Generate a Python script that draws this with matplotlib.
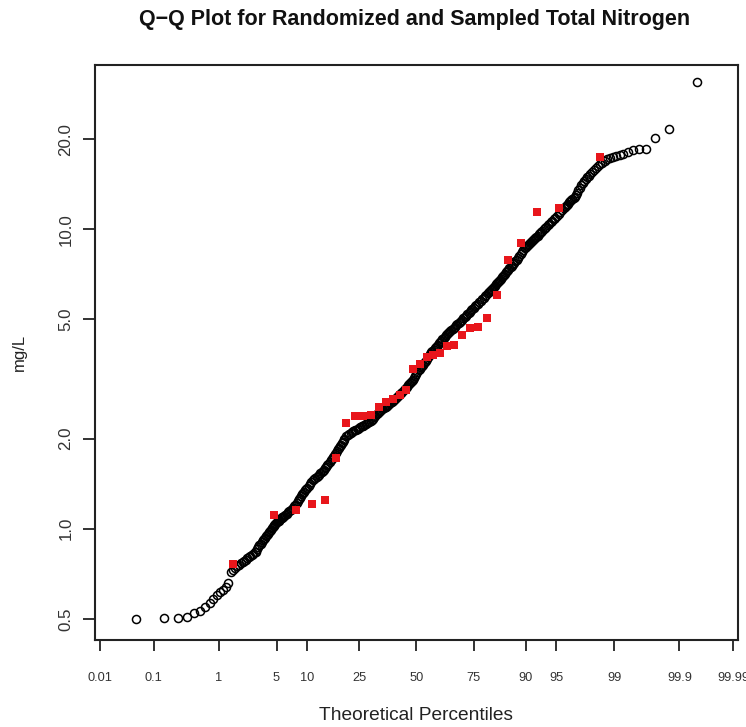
import numpy as np
import matplotlib
matplotlib.use("Agg")
import matplotlib.pyplot as plt
from matplotlib.ticker import FixedLocator, NullLocator, FixedFormatter
from statistics import NormalDist

# ---------------- data ----------------
# Sampled total nitrogen (mg/L), sorted, n = 32 (red squares)
sampled_values = [0.760, 1.109, 1.155, 1.209, 1.247, 1.718, 2.249, 2.379, 2.385, 2.398,
                  2.556, 2.657, 2.706, 2.797, 2.907, 3.407, 3.549, 3.737, 3.804, 3.853,
                  4.075, 4.107, 4.436, 4.692, 4.728, 5.043, 6.034, 7.900, 8.980, 11.40,
                  11.81, 17.48]

# Randomized total nitrogen: n = 1000; order statistics read at these ranks
randomized_n = 1000
randomized_ranks = (list(range(1, 61)) + list(range(62, 101, 2)) + list(range(103, 200, 3))
                    + list(range(205, 801, 5)) + list(range(803, 900, 3))
                    + list(range(901, 960, 2)) + list(range(960, 1001)))
randomized_values = [
    # ranks 1-60
    0.500, 0.502, 0.505, 0.507, 0.522, 0.532, 0.549, 0.563, 0.582, 0.601,
    0.616, 0.624, 0.640, 0.657, 0.717, 0.728, 0.739, 0.748, 0.756, 0.766,
    0.774, 0.780, 0.789, 0.797, 0.804, 0.811, 0.818, 0.825, 0.833, 0.839,
    0.853, 0.867, 0.880, 0.892, 0.903, 0.914, 0.924, 0.934, 0.944, 0.953,
    0.963, 0.973, 0.983, 0.992, 1.002, 1.011, 1.021, 1.030, 1.038, 1.046,
    1.053, 1.059, 1.065, 1.070, 1.076, 1.082, 1.088, 1.093, 1.098, 1.103,
    # ranks 62-100 step 2
    1.114, 1.124, 1.133, 1.144, 1.155, 1.166, 1.177, 1.188, 1.199, 1.216,
    1.233, 1.252, 1.270, 1.286, 1.301, 1.314, 1.329, 1.344, 1.357, 1.370,
    # ranks 103-199 step 3
    1.390, 1.411, 1.433, 1.450, 1.463, 1.476, 1.490, 1.503, 1.516, 1.531,
    1.548, 1.562, 1.576, 1.590, 1.610, 1.630, 1.650, 1.671, 1.692, 1.714,
    1.735, 1.756, 1.776, 1.797, 1.818, 1.840, 1.860, 1.883, 1.907, 1.930,
    1.952, 1.976, 1.998,
    # ranks 205-800 step 5
    2.034, 2.053, 2.072, 2.090, 2.107, 2.119, 2.131, 2.143, 2.154, 2.168,
    2.181, 2.196, 2.211, 2.226, 2.241, 2.254, 2.267, 2.280, 2.293, 2.311,
    2.329, 2.357, 2.385, 2.411, 2.438, 2.459, 2.480, 2.496, 2.511, 2.526,
    2.541, 2.558, 2.575, 2.592, 2.609, 2.628, 2.647, 2.670, 2.693, 2.715,
    2.736, 2.760, 2.783, 2.806, 2.828, 2.850, 2.872, 2.899, 2.926, 2.955,
    2.983, 3.010, 3.038, 3.067, 3.095, 3.123, 3.150, 3.193, 3.236, 3.293,
    3.350, 3.388, 3.425, 3.460, 3.494, 3.533, 3.571, 3.609, 3.646, 3.693,
    3.739, 3.789, 3.838, 3.882, 3.925, 3.963, 4.001, 4.042, 4.082, 4.122,
    4.161, 4.203, 4.245, 4.292, 4.338, 4.382, 4.425, 4.461, 4.497, 4.536,
    4.574, 4.615, 4.655, 4.695, 4.735, 4.777, 4.819, 4.862, 4.905, 4.951,
    4.996, 5.047, 5.097, 5.149, 5.200, 5.253, 5.305, 5.361, 5.417, 5.474,
    5.530, 5.586, 5.642, 5.706, 5.769, 5.835, 5.900, 5.974, 6.047, 6.112,
    # ranks 803-899 step 3
    6.166, 6.219, 6.271, 6.325, 6.381, 6.434, 6.489, 6.546, 6.606, 6.667,
    6.726, 6.786, 6.849, 6.910, 6.971, 7.042, 7.112, 7.182, 7.254, 7.328,
    7.407, 7.487, 7.570, 7.652, 7.734, 7.817, 7.910, 8.029, 8.151, 8.275,
    8.410, 8.533, 8.632,
    # ranks 901-959 step 2
    8.699, 8.766, 8.839, 8.909, 8.978, 9.047, 9.120, 9.195, 9.271, 9.352,
    9.438, 9.521, 9.609, 9.703, 9.804, 9.902, 9.999, 10.10, 10.20, 10.30,
    10.42, 10.54, 10.66, 10.79, 10.93, 11.06, 11.21, 11.40, 11.62, 11.81,
    # ranks 960-1000
    11.91, 12.00, 12.09, 12.18, 12.29, 12.40, 12.51, 12.62, 12.74, 12.85,
    13.02, 13.27, 13.51, 13.71, 14.02, 14.25, 14.50, 14.69, 14.92, 15.10,
    15.30, 15.50, 15.74, 15.98, 16.22, 16.48, 16.70, 16.91, 17.13, 17.33,
    17.45, 17.57, 17.72, 17.89, 18.16, 18.42, 18.54, 18.61, 20.13, 21.57,
    31.11]

x_tick_percentiles = [0.01, 0.1, 1, 5, 10, 25, 50, 75, 90, 95, 99, 99.9, 99.99]
x_tick_labels = ["0.01", "0.1", "1", "5", "10", "25", "50", "75", "90", "95", "99", "99.9", "99.99"]
y_ticks = [0.5, 1.0, 2.0, 5.0, 10.0, 20.0]
y_tick_labels = ["0.5", "1.0", "2.0", "5.0", "10.0", "20.0"]

assert len(randomized_ranks) == len(randomized_values)

# ---------------- plotting positions (Hazen) ----------------
rand_pct = [100.0 * (r - 0.5) / randomized_n for r in randomized_ranks]
n_s = len(sampled_values)
samp_pct = [100.0 * (i - 0.5) / n_s for i in range(1, n_s + 1)]

_nd = NormalDist()


def _fwd_scalar(pc):
    try:
        q = pc / 100.0
        q = min(max(q, 1e-15), 1 - 1e-15)
        return _nd.inv_cdf(q)
    except Exception:
        return np.nan


def _inv_scalar(z):
    try:
        return 100.0 * _nd.cdf(z)
    except Exception:
        return np.nan


fwd = np.vectorize(_fwd_scalar, otypes=[float])
inv = np.vectorize(_inv_scalar, otypes=[float])

plt.rcParams["font.family"] = ["Liberation Sans", "DejaVu Sans"]

W, H = 746, 727
fig = plt.figure(figsize=(W / 100, H / 100), dpi=100)
L, R, T, B = 95, 738, 65, 640
ax = fig.add_axes([L / W, 1 - B / H, (R - L) / W, (B - T) / H])

ax.set_xscale("function", functions=(fwd, inv))
ax.set_yscale("log")

ax.plot(rand_pct, randomized_values, linestyle="none", marker="o", markersize=5.8,
        markerfacecolor="none", markeredgecolor="black", markeredgewidth=1.1, zorder=2)
ax.plot(samp_pct, sampled_values, linestyle="none", marker="s", markersize=5.9,
        markerfacecolor="#e8161b", markeredgewidth=0, zorder=3)

zlim = 3.778
ax.set_xlim(100 * _nd.cdf(-zlim), 100 * _nd.cdf(zlim))
ax.set_ylim(10 ** (-0.3717), 10 ** 1.5488)

ax.xaxis.set_major_locator(FixedLocator(x_tick_percentiles))
ax.xaxis.set_major_formatter(FixedFormatter(x_tick_labels))
ax.xaxis.set_minor_locator(NullLocator())
ax.yaxis.set_major_locator(FixedLocator(y_ticks))
ax.yaxis.set_major_formatter(FixedFormatter(y_tick_labels))
ax.yaxis.set_minor_locator(NullLocator())

for s in ax.spines.values():
    s.set_linewidth(1.5)
    s.set_color("#222222")

ax.tick_params(axis="x", direction="out", length=8, width=1.3, pad=15,
               labelsize=9.2, colors="#222222", labelcolor="#333333")
ax.tick_params(axis="y", direction="out", length=8.5, width=1.3, pad=7,
               labelsize=12.2, colors="#222222", labelcolor="#333333")
for lab in ax.get_yticklabels():
    lab.set_rotation(90)
    lab.set_verticalalignment("center")

fig.text(415 / W, 1 - 20 / H, "Q\u2212Q Plot for Randomized and Sampled Total Nitrogen",
         ha="center", va="center", fontsize=15.5, fontweight="bold", color="#111111")
fig.text(416 / W, 1 - 716 / H, "Theoretical Percentiles", ha="center", va="center",
         fontsize=13.8, color="#222222")
fig.text(19 / W, 1 - 352 / H, "mg/L", ha="center", va="center", rotation=90,
         fontsize=12, color="#222222")

fig.savefig("out.png", dpi=100)
